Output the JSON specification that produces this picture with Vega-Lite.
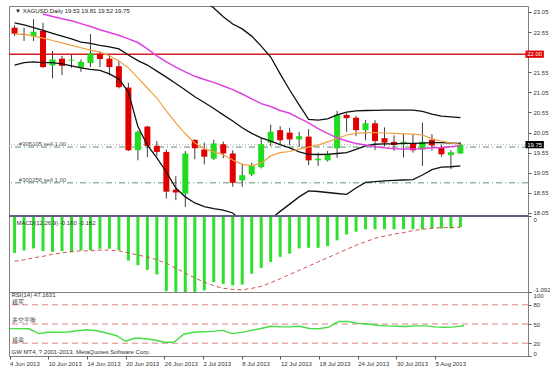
{
"$schema": "https://vega.github.io/schema/vega-lite/v6.json",
"padding": {"left": 7, "top": 5, "right": 0, "bottom": 0},
"background": "white",
"spacing": 0,
"bounds": "flush",
"config": {
 "view": {"stroke": "#808080", "strokeWidth": 1},
 "axis": {"labelFont": "Liberation Sans", "labelFontSize": 6, "labelColor": "#333333", "tickColor": "#555555", "tickSize": 3, "domain": false, "grid": false, "labelPadding": 2},
 "text": {"font": "Liberation Sans", "fontSize": 6, "color": "#333333"}
},
"datasets": {"b": [
{"i":0,"o":22.66,"h":22.72,"l":22.45,"c":22.51,"mf":22.50,"ms":null,"bu":null,"bm":22.78,"bl":21.73,"m":-0.53,"s":-0.65,"r":42.7},
{"i":1,"o":22.50,"h":22.66,"l":22.33,"c":22.48,"mf":22.50,"ms":null,"bu":null,"bm":22.73,"bl":21.79,"m":-0.495,"s":-0.63,"r":42.7},
{"i":2,"o":22.44,"h":22.87,"l":22.33,"c":22.56,"mf":22.45,"ms":null,"bu":null,"bm":22.66,"bl":21.81,"m":-0.466,"s":-0.60,"r":42.5},
{"i":3,"o":22.58,"h":22.78,"l":21.66,"c":21.68,"mf":22.40,"ms":23.00,"bu":null,"bm":22.59,"bl":21.79,"m":-0.505,"s":-0.58,"r":35},
{"i":4,"o":21.72,"h":22.08,"l":21.40,"c":21.87,"mf":22.34,"ms":22.94,"bu":null,"bm":22.52,"bl":21.79,"m":-0.515,"s":-0.55,"r":37},
{"i":5,"o":21.89,"h":21.96,"l":21.48,"c":21.71,"mf":22.28,"ms":22.88,"bu":null,"bm":22.45,"bl":21.76,"m":-0.505,"s":-0.53,"r":37},
{"i":6,"o":21.84,"h":22.00,"l":21.66,"c":21.86,"mf":22.22,"ms":22.83,"bu":null,"bm":22.38,"bl":21.71,"m":-0.524,"s":-0.51,"r":37.5},
{"i":7,"o":21.66,"h":21.87,"l":21.56,"c":21.81,"mf":22.16,"ms":22.76,"bu":null,"bm":22.30,"bl":21.66,"m":-0.495,"s":-0.50,"r":39.5},
{"i":8,"o":21.78,"h":22.50,"l":21.68,"c":22.02,"mf":22.10,"ms":22.69,"bu":null,"bm":22.27,"bl":21.62,"m":-0.49,"s":-0.50,"r":41},
{"i":9,"o":22.01,"h":22.07,"l":21.68,"c":21.88,"mf":22.05,"ms":22.61,"bu":null,"bm":22.22,"bl":21.60,"m":-0.47,"s":-0.49,"r":39.5},
{"i":10,"o":21.89,"h":21.96,"l":21.48,"c":21.68,"mf":21.96,"ms":22.54,"bu":null,"bm":22.18,"bl":21.51,"m":-0.47,"s":-0.49,"r":36},
{"i":11,"o":21.70,"h":21.83,"l":21.15,"c":21.18,"mf":21.83,"ms":22.47,"bu":null,"bm":22.13,"bl":21.38,"m":-0.49,"s":-0.50,"r":32},
{"i":12,"o":21.17,"h":21.29,"l":19.59,"c":19.61,"mf":21.66,"ms":22.38,"bu":null,"bm":21.98,"bl":21.06,"m":-0.64,"s":-0.53,"r":23},
{"i":13,"o":19.61,"h":20.10,"l":19.36,"c":20.07,"mf":21.41,"ms":22.29,"bu":null,"bm":21.84,"bl":20.20,"m":-0.707,"s":-0.56,"r":28},
{"i":14,"o":20.20,"h":20.22,"l":19.44,"c":19.72,"mf":21.16,"ms":22.13,"bu":null,"bm":21.73,"bl":19.74,"m":-0.775,"s":-0.59,"r":27},
{"i":15,"o":19.72,"h":19.84,"l":19.47,"c":19.57,"mf":20.91,"ms":21.96,"bu":null,"bm":21.58,"bl":19.42,"m":-0.84,"s":-0.63,"r":25},
{"i":16,"o":19.57,"h":19.63,"l":18.41,"c":18.58,"mf":20.59,"ms":21.81,"bu":null,"bm":21.43,"bl":19.07,"m":-1.08,"s":-0.68,"r":21.5},
{"i":17,"o":18.63,"h":18.97,"l":18.37,"c":18.56,"mf":20.29,"ms":21.68,"bu":null,"bm":21.27,"bl":18.67,"m":-1.09,"s":-0.75,"r":21.5},
{"i":18,"o":18.53,"h":19.59,"l":18.20,"c":19.53,"mf":20.02,"ms":21.56,"bu":null,"bm":21.11,"bl":18.45,"m":-1.092,"s":-0.82,"r":34},
{"i":19,"o":19.87,"h":19.88,"l":19.39,"c":19.66,"mf":19.79,"ms":21.45,"bu":null,"bm":20.94,"bl":18.30,"m":-1.09,"s":-0.89,"r":37},
{"i":20,"o":19.63,"h":19.80,"l":19.26,"c":19.45,"mf":19.65,"ms":21.37,"bu":23.33,"bm":20.80,"bl":18.21,"m":-1.07,"s":-0.95,"r":38},
{"i":21,"o":19.40,"h":19.87,"l":19.37,"c":19.78,"mf":19.57,"ms":21.30,"bu":23.15,"bm":20.65,"bl":18.16,"m":-0.95,"s":-1.00,"r":38.5},
{"i":22,"o":19.76,"h":19.83,"l":19.41,"c":19.53,"mf":19.50,"ms":21.21,"bu":22.93,"bm":20.49,"bl":18.12,"m":-0.976,"s":-1.04,"r":40},
{"i":23,"o":19.53,"h":19.61,"l":18.70,"c":18.80,"mf":19.37,"ms":21.12,"bu":22.75,"bm":20.34,"bl":18.05,"m":-0.995,"s":-1.055,"r":35},
{"i":24,"o":18.86,"h":19.28,"l":18.70,"c":18.99,"mf":19.26,"ms":21.01,"bu":22.63,"bm":20.17,"bl":17.85,"m":-0.985,"s":-1.06,"r":37},
{"i":25,"o":19.01,"h":19.30,"l":18.97,"c":19.22,"mf":19.23,"ms":20.89,"bu":22.45,"bm":20.03,"bl":17.70,"m":-0.83,"s":-1.04,"r":40},
{"i":26,"o":19.19,"h":19.92,"l":19.16,"c":19.76,"mf":19.29,"ms":20.77,"bu":22.20,"bm":19.92,"bl":17.73,"m":-0.745,"s":-1.01,"r":43},
{"i":27,"o":19.80,"h":20.25,"l":19.71,"c":20.07,"mf":19.47,"ms":20.70,"bu":21.93,"bm":19.84,"bl":17.90,"m":-0.66,"s":-0.96,"r":46.5},
{"i":28,"o":20.11,"h":20.21,"l":19.76,"c":19.86,"mf":19.55,"ms":20.60,"bu":21.51,"bm":19.75,"bl":18.09,"m":-0.587,"s":-0.90,"r":45.5},
{"i":29,"o":20.05,"h":20.17,"l":19.74,"c":19.88,"mf":19.58,"ms":20.53,"bu":21.11,"bm":19.67,"bl":18.27,"m":-0.54,"s":-0.84,"r":45.5},
{"i":30,"o":19.88,"h":20.07,"l":19.69,"c":19.96,"mf":19.64,"ms":20.41,"bu":20.74,"bm":19.57,"bl":18.45,"m":-0.466,"s":-0.78,"r":46.5},
{"i":31,"o":19.95,"h":20.14,"l":19.24,"c":19.36,"mf":19.69,"ms":20.29,"bu":20.38,"bm":19.51,"bl":18.60,"m":-0.457,"s":-0.72,"r":43},
{"i":32,"o":19.36,"h":19.55,"l":19.22,"c":19.40,"mf":19.74,"ms":20.15,"bu":20.36,"bm":19.505,"bl":18.585,"m":-0.457,"s":-0.66,"r":42.5},
{"i":33,"o":19.36,"h":19.59,"l":19.33,"c":19.52,"mf":19.82,"ms":20.03,"bu":20.39,"bm":19.51,"bl":18.56,"m":-0.433,"s":-0.60,"r":45},
{"i":34,"o":19.66,"h":20.59,"l":19.42,"c":20.49,"mf":19.90,"ms":19.92,"bu":20.49,"bm":19.53,"bl":18.535,"m":-0.35,"s":-0.54,"r":54},
{"i":35,"o":20.49,"h":20.53,"l":20.07,"c":20.41,"mf":19.99,"ms":19.84,"bu":20.56,"bm":19.55,"bl":18.515,"m":-0.265,"s":-0.48,"r":54},
{"i":36,"o":20.42,"h":20.47,"l":19.96,"c":20.11,"mf":20.03,"ms":19.78,"bu":20.59,"bm":19.63,"bl":18.67,"m":-0.226,"s":-0.42,"r":51},
{"i":37,"o":20.11,"h":20.36,"l":19.86,"c":20.28,"mf":20.05,"ms":19.74,"bu":20.60,"bm":19.72,"bl":18.81,"m":-0.192,"s":-0.37,"r":50},
{"i":38,"o":20.28,"h":20.36,"l":19.62,"c":19.84,"mf":20.05,"ms":19.70,"bu":20.605,"bm":19.76,"bl":18.83,"m":-0.19,"s":-0.32,"r":48},
{"i":39,"o":19.91,"h":20.18,"l":19.71,"c":19.80,"mf":20.04,"ms":19.67,"bu":20.61,"bm":19.77,"bl":18.85,"m":-0.19,"s":-0.29,"r":47},
{"i":40,"o":19.82,"h":19.98,"l":19.60,"c":19.74,"mf":20.03,"ms":19.65,"bu":20.61,"bm":19.77,"bl":18.86,"m":-0.19,"s":-0.26,"r":46.5},
{"i":41,"o":19.76,"h":20.01,"l":19.43,"c":19.82,"mf":20.02,"ms":19.64,"bu":20.61,"bm":19.78,"bl":18.87,"m":-0.19,"s":-0.24,"r":46},
{"i":42,"o":19.78,"h":20.00,"l":19.55,"c":19.61,"mf":20.01,"ms":19.64,"bu":20.61,"bm":19.78,"bl":18.88,"m":-0.19,"s":-0.21,"r":47},
{"i":43,"o":19.63,"h":20.30,"l":19.22,"c":19.82,"mf":19.99,"ms":19.65,"bu":20.575,"bm":19.79,"bl":18.995,"m":-0.19,"s":-0.19,"r":47},
{"i":44,"o":19.87,"h":20.01,"l":19.60,"c":19.73,"mf":19.90,"ms":19.67,"bu":20.51,"bm":19.80,"bl":19.13,"m":-0.18,"s":-0.175,"r":45.5},
{"i":45,"o":19.69,"h":19.75,"l":19.45,"c":19.51,"mf":19.84,"ms":19.68,"bu":20.46,"bm":19.80,"bl":19.19,"m":-0.18,"s":-0.168,"r":45},
{"i":46,"o":19.49,"h":19.61,"l":19.14,"c":19.56,"mf":19.79,"ms":19.70,"bu":20.44,"bm":19.79,"bl":19.20,"m":-0.18,"s":-0.165,"r":45.5},
{"i":47,"o":19.53,"h":19.81,"l":19.52,"c":19.75,"mf":19.76,"ms":19.72,"bu":20.42,"bm":19.78,"bl":19.22,"m":-0.160,"s":-0.162,"r":47.16}
]},
"data": {"name": "b"},
"vconcat": [
{
 "width": 519, "height": 210,
 "layer": [
  {"data": {"values": [{}]}, "mark": {"type": "rule", "color": "#b0b0b0", "strokeDash": [1, 2], "strokeWidth": 1},
   "encoding": {"y": {"datum": 19.75, "type": "quantitative", "scale": {"domain": [17.975, 23.199], "nice": false, "zero": false}, "axis": {"orient": "right", "title": null, "values": [23.05, 22.55, 21.55, 21.05, 20.55, 20.05, 19.55, 19.05, 18.55, 18.05], "format": ".2f"}}}},
  {"data": {"values": [{"v": 19.69}, {"v": 18.80}]}, "mark": {"type": "rule", "color": "#5f8f6f", "strokeDash": [6, 3, 1, 3], "strokeWidth": 1},
   "encoding": {"y": {"field": "v", "type": "quantitative", "scale": {"domain": [17.975, 23.199], "nice": false, "zero": false}, "axis": {"orient": "right", "title": null, "values": [23.05, 22.55, 21.55, 21.05, 20.55, 20.05, 19.55, 19.05, 18.55, 18.05], "format": ".2f"}}}},
  {"data": {"values": [{}]}, "mark": {"type": "rule", "color": "#d42020", "strokeWidth": 1.5},
   "encoding": {"y": {"datum": 22, "type": "quantitative", "scale": {"domain": [17.975, 23.199], "nice": false, "zero": false}, "axis": {"orient": "right", "title": null, "values": [23.05, 22.55, 21.55, 21.05, 20.55, 20.05, 19.55, 19.05, 18.55, 18.05], "format": ".2f"}}}},
  {"mark": {"type": "rule", "color": "#3c3c3c", "strokeWidth": 1, "clip": true},
   "encoding": {
    "x": {"field": "i", "type": "quantitative", "scale": {"domain": [-0.06, 53.6], "nice": false, "zero": false}, "axis": null},
    "y": {"field": "l", "type": "quantitative", "scale": {"domain": [17.975, 23.199], "nice": false, "zero": false}, "axis": {"orient": "right", "title": null, "values": [23.05, 22.55, 21.55, 21.05, 20.55, 20.05, 19.55, 19.05, 18.55, 18.05], "format": ".2f"}},
    "y2": {"field": "h"}}},
  {"mark": {"type": "bar", "size": 6, "clip": true},
   "encoding": {
    "x": {"field": "i", "type": "quantitative", "scale": {"domain": [-0.06, 53.6], "nice": false, "zero": false}, "axis": null},
    "y": {"field": "o", "type": "quantitative", "scale": {"domain": [17.975, 23.199], "nice": false, "zero": false}, "axis": {"orient": "right", "title": null, "values": [23.05, 22.55, 21.55, 21.05, 20.55, 20.05, 19.55, 19.05, 18.55, 18.05], "format": ".2f"}},
    "y2": {"field": "c"},
    "color": {"condition": {"test": "datum.c >= datum.o", "value": "#1fdc1f"}, "value": "#e00000"}}},
  {"mark": {"type": "line", "color": "#111111", "strokeWidth": 1.3, "clip": true},
   "encoding": {
    "x": {"field": "i", "type": "quantitative", "scale": {"domain": [-0.06, 53.6], "nice": false, "zero": false}, "axis": null},
    "y": {"field": "bu", "type": "quantitative", "scale": {"domain": [17.975, 23.199], "nice": false, "zero": false}, "axis": {"orient": "right", "title": null, "values": [23.05, 22.55, 21.55, 21.05, 20.55, 20.05, 19.55, 19.05, 18.55, 18.05], "format": ".2f"}}}},
  {"mark": {"type": "line", "color": "#111111", "strokeWidth": 1.3, "clip": true},
   "encoding": {
    "x": {"field": "i", "type": "quantitative", "scale": {"domain": [-0.06, 53.6], "nice": false, "zero": false}, "axis": null},
    "y": {"field": "bm", "type": "quantitative", "scale": {"domain": [17.975, 23.199], "nice": false, "zero": false}, "axis": {"orient": "right", "title": null, "values": [23.05, 22.55, 21.55, 21.05, 20.55, 20.05, 19.55, 19.05, 18.55, 18.05], "format": ".2f"}}}},
  {"mark": {"type": "line", "color": "#111111", "strokeWidth": 1.3, "clip": true},
   "encoding": {
    "x": {"field": "i", "type": "quantitative", "scale": {"domain": [-0.06, 53.6], "nice": false, "zero": false}, "axis": null},
    "y": {"field": "bl", "type": "quantitative", "scale": {"domain": [17.975, 23.199], "nice": false, "zero": false}, "axis": {"orient": "right", "title": null, "values": [23.05, 22.55, 21.55, 21.05, 20.55, 20.05, 19.55, 19.05, 18.55, 18.05], "format": ".2f"}}}},
  {"mark": {"type": "line", "color": "#f0a040", "strokeWidth": 1.2, "clip": true},
   "encoding": {
    "x": {"field": "i", "type": "quantitative", "scale": {"domain": [-0.06, 53.6], "nice": false, "zero": false}, "axis": null},
    "y": {"field": "mf", "type": "quantitative", "scale": {"domain": [17.975, 23.199], "nice": false, "zero": false}, "axis": {"orient": "right", "title": null, "values": [23.05, 22.55, 21.55, 21.05, 20.55, 20.05, 19.55, 19.05, 18.55, 18.05], "format": ".2f"}}}},
  {"mark": {"type": "line", "color": "#e040e0", "strokeWidth": 1.5, "clip": true},
   "encoding": {
    "x": {"field": "i", "type": "quantitative", "scale": {"domain": [-0.06, 53.6], "nice": false, "zero": false}, "axis": null},
    "y": {"field": "ms", "type": "quantitative", "scale": {"domain": [17.975, 23.199], "nice": false, "zero": false}, "axis": {"orient": "right", "title": null, "values": [23.05, 22.55, 21.55, 21.05, 20.55, 20.05, 19.55, 19.05, 18.55, 18.05], "format": ".2f"}}}},
  {"data": {"values": [{"lo": 21.91, "hi": 22.09, "k": "r"}, {"lo": 19.66, "hi": 19.84, "k": "b"}]},
   "mark": {"type": "rect", "clip": false},
   "encoding": {
    "x": {"datum": 53.86, "type": "quantitative", "scale": {"domain": [-0.06, 53.6], "nice": false, "zero": false}, "axis": null},
    "x2": {"datum": 55.8},
    "y": {"field": "lo", "type": "quantitative", "scale": {"domain": [17.975, 23.199], "nice": false, "zero": false}, "axis": {"orient": "right", "title": null, "values": [23.05, 22.55, 21.55, 21.05, 20.55, 20.05, 19.55, 19.05, 18.55, 18.05], "format": ".2f"}},
    "y2": {"field": "hi"},
    "color": {"condition": {"test": "datum.k == 'r'", "value": "#e00000"}, "value": "#000000"}}},
  {"data": {"values": [{"t": "22.00", "v": 22.0}, {"t": "19.75", "v": 19.75}]},
   "mark": {"type": "text", "color": "white", "align": "center", "baseline": "middle", "fontSize": 6, "clip": false},
   "encoding": {
    "x": {"datum": 54.83, "type": "quantitative", "scale": {"domain": [-0.06, 53.6], "nice": false, "zero": false}, "axis": null},
    "y": {"field": "v", "type": "quantitative", "scale": {"domain": [17.975, 23.199], "nice": false, "zero": false}, "axis": {"orient": "right", "title": null, "values": [23.05, 22.55, 21.55, 21.05, 20.55, 20.05, 19.55, 19.05, 18.55, 18.05], "format": ".2f"}},
    "text": {"field": "t"}}},
  {"data": {"values": [{"t": "▼ XAGUSD,Daily  19.53 19.81 19.52 19.75", "x": 0.05, "v": 23.075, "c": "#222222"}, {"t": "#305105 sell 1.00", "x": 0.45, "v": 19.765, "c": "#555555"}, {"t": "#300256 sell 1.00", "x": 0.45, "v": 18.88, "c": "#555555"}]},
   "mark": {"type": "text", "align": "left", "baseline": "middle", "fontSize": 6},
   "encoding": {
    "x": {"field": "x", "type": "quantitative", "scale": {"domain": [-0.06, 53.6], "nice": false, "zero": false}, "axis": null},
    "y": {"field": "v", "type": "quantitative", "scale": {"domain": [17.975, 23.199], "nice": false, "zero": false}, "axis": {"orient": "right", "title": null, "values": [23.05, 22.55, 21.55, 21.05, 20.55, 20.05, 19.55, 19.05, 18.55, 18.05], "format": ".2f"}},
    "text": {"field": "t"},
    "color": {"field": "c", "type": "nominal", "scale": null}}}
 ]
},
{
 "width": 519, "height": 76,
 "layer": [
  {"mark": {"type": "bar", "size": 3, "color": "#2ee02e", "clip": true},
   "encoding": {
    "x": {"field": "i", "type": "quantitative", "scale": {"domain": [-0.06, 53.6], "nice": false, "zero": false}, "axis": null},
    "y": {"field": "m", "type": "quantitative", "scale": {"domain": [-1.092, 0], "nice": false, "zero": false},
          "axis": {"orient": "right", "title": null, "values": [0, -1.092], "labelExpr": "datum.value == 0 ? '0' : '-1.092'", "labelFlush": true}},
    "y2": {"datum": 0}}},
  {"mark": {"type": "line", "color": "#d05050", "strokeWidth": 1, "strokeDash": [4, 3], "clip": true},
   "encoding": {
    "x": {"field": "i", "type": "quantitative", "scale": {"domain": [-0.06, 53.6], "nice": false, "zero": false}, "axis": null},
    "y": {"field": "s", "type": "quantitative", "scale": {"domain": [-1.092, 0], "nice": false, "zero": false},
          "axis": {"orient": "right", "title": null, "values": [0, -1.092], "labelExpr": "datum.value == 0 ? '0' : '-1.092'", "labelFlush": true}}}},
  {"data": {"values": [{}]}, "mark": {"type": "rule", "color": "#6a5a8a", "strokeWidth": 2},
   "encoding": {"y": {"datum": 0, "type": "quantitative", "scale": {"domain": [-1.092, 0], "nice": false, "zero": false},
          "axis": {"orient": "right", "title": null, "values": [0, -1.092], "labelExpr": "datum.value == 0 ? '0' : '-1.092'", "labelFlush": true}}}},
  {"data": {"values": [{}]}, "mark": {"type": "text", "align": "left", "baseline": "middle", "fontSize": 6, "text": "MACD(12,26,9) -0.160 -0.162"},
   "encoding": {
    "x": {"datum": 0.2, "type": "quantitative", "scale": {"domain": [-0.06, 53.6], "nice": false, "zero": false}, "axis": null},
    "y": {"datum": -0.095, "type": "quantitative", "scale": {"domain": [-1.092, 0], "nice": false, "zero": false},
          "axis": {"orient": "right", "title": null, "values": [0, -1.092], "labelExpr": "datum.value == 0 ? '0' : '-1.092'", "labelFlush": true}}}}
 ]
},
{
 "width": 519, "height": 64,
 "layer": [
  {"data": {"values": [{"v": 80}, {"v": 50}, {"v": 20}]}, "mark": {"type": "rule", "color": "#e08080", "strokeWidth": 1, "strokeDash": [6, 4]},
   "encoding": {"y": {"field": "v", "type": "quantitative", "scale": {"domain": [0, 100], "nice": false, "zero": false},
          "axis": {"orient": "right", "title": null, "values": [0, 20, 50, 80, 100], "labelFlush": true}}}},
  {"mark": {"type": "line", "color": "#44dd44", "strokeWidth": 1.4, "clip": true},
   "encoding": {
    "x": {"field": "i", "type": "quantitative", "scale": {"domain": [-0.06, 53.6], "nice": false, "zero": false},
          "axis": {"orient": "bottom", "title": null, "values": [0, 4, 8, 12, 16, 20, 24, 28, 32, 36, 40, 44], "labelAlign": "left", "labelFlush": false, "labelOverlap": false, "labelPadding": 1,
                   "labelExpr": "['4 Jun 2013','10 Jun 2013','14 Jun 2013','20 Jun 2013','26 Jun 2013','2 Jul 2013','8 Jul 2013','12 Jul 2013','18 Jul 2013','24 Jul 2013','30 Jul 2013','5 Aug 2013'][round(datum.value/4)]"}},
    "y": {"field": "r", "type": "quantitative", "scale": {"domain": [0, 100], "nice": false, "zero": false},
          "axis": {"orient": "right", "title": null, "values": [0, 20, 50, 80, 100], "labelFlush": true}}}},
  {"data": {"values": [{"t": "RSI(14) 47.1631", "v": 95, "f": "Liberation Sans"}, {"t": "超买", "v": 85, "f": "Noto Sans CJK SC"}, {"t": "多空平衡", "v": 56, "f": "Noto Sans CJK SC"}, {"t": "超卖", "v": 25, "f": "Noto Sans CJK SC"}, {"t": "GW MT4, ? 2001-2013, MetaQuotes Software Corp.", "v": 7, "f": "Liberation Sans"}]},
   "mark": {"type": "text", "align": "left", "baseline": "middle", "fontSize": 6},
   "encoding": {
    "x": {"datum": 0.2, "type": "quantitative", "scale": {"domain": [-0.06, 53.6], "nice": false, "zero": false},
          "axis": {"orient": "bottom", "title": null, "values": [0, 4, 8, 12, 16, 20, 24, 28, 32, 36, 40, 44], "labelAlign": "left", "labelFlush": false, "labelOverlap": false, "labelPadding": 1,
                   "labelExpr": "['4 Jun 2013','10 Jun 2013','14 Jun 2013','20 Jun 2013','26 Jun 2013','2 Jul 2013','8 Jul 2013','12 Jul 2013','18 Jul 2013','24 Jul 2013','30 Jul 2013','5 Aug 2013'][round(datum.value/4)]"}},
    "y": {"field": "v", "type": "quantitative", "scale": {"domain": [0, 100], "nice": false, "zero": false},
          "axis": {"orient": "right", "title": null, "values": [0, 20, 50, 80, 100], "labelFlush": true}},
    "text": {"field": "t"},
    "font": {"field": "f", "type": "nominal", "scale": null}}}
 ]
}
]
}
